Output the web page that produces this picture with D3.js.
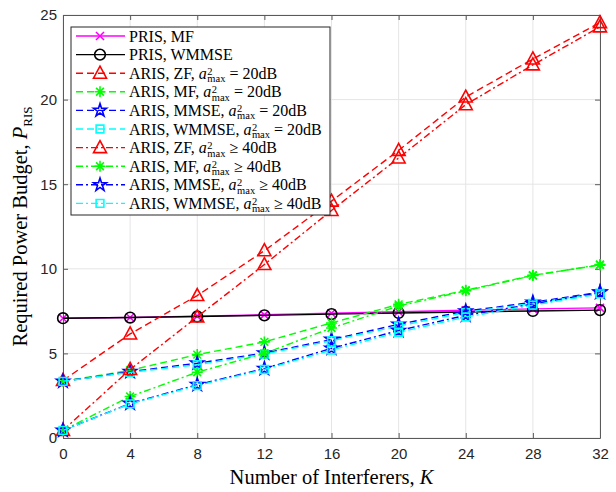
<!DOCTYPE html>
<html>
<head>
<meta charset="utf-8">
<script src="https://cdn.jsdelivr.net/npm/d3@7"></script>
<style>
  body { margin: 0; background: #fff; }
  svg { display: block; }
</style>
</head>
<body>
<div id="chart"></div>
<script>
const width = 616;
const height = 492;
const margin = { top: 15, right: 16, bottom: 54, left: 63 };

// data
const interferers = [0, 4, 8, 12, 16, 20, 24, 28, 32];
const xTicks = [0, 4, 8, 12, 16, 20, 24, 28, 32];
const yTicks = [0, 5, 10, 15, 20, 25];

const prisMF = [7.08, 7.12, 7.2, 7.28, 7.37, 7.46, 7.55, 7.63, 7.69];
const prisWMMSE = [7.08, 7.12, 7.18, 7.25, 7.32, 7.39, 7.45, 7.51, 7.56];
const arisZF20 = [3.4, 6.15, 8.42, 11.07, 14.0, 17.0, 20.15, 22.4, 24.55];
const arisMF20 = [3.35, 4.0, 4.93, 5.68, 6.8, 7.9, 8.73, 9.62, 10.22];
const arisMMSE20 = [3.35, 3.92, 4.42, 5.02, 5.82, 6.72, 7.5, 8.02, 8.62];
const arisWMMSE20 = [3.35, 3.88, 4.33, 4.96, 5.75, 6.62, 7.42, 7.96, 8.56];
const arisZF40 = [0.45, 4.05, 7.16, 10.25, 13.45, 16.55, 19.7, 22.05, 24.3];
const arisMF40 = [0.45, 2.45, 3.89, 5.0, 6.5, 7.8, 8.7, 9.6, 10.25];
const arisMMSE40 = [0.45, 2.04, 3.15, 4.1, 5.3, 6.35, 7.25, 7.92, 8.6];
const arisWMMSE40 = [0.45, 2.02, 3.1, 4.05, 5.2, 6.25, 7.15, 7.85, 8.52];

const seriesNames = [
  ["PRIS, MF"],
  ["PRIS, WMMSE"],
  ["ARIS, ZF, ", "=", "20dB"],
  ["ARIS, MF, ", "=", "20dB"],
  ["ARIS, MMSE, ", "=", "20dB"],
  ["ARIS, WMMSE, ", "=", "20dB"],
  ["ARIS, ZF, ", "\u2265", "40dB"],
  ["ARIS, MF, ", "\u2265", "40dB"],
  ["ARIS, MMSE, ", "\u2265", "40dB"],
  ["ARIS, WMMSE, ", "\u2265", "40dB"]
];
const seriesValues = [prisMF, prisWMMSE, arisZF20, arisMF20, arisMMSE20, arisWMMSE20,
  arisZF40, arisMF40, arisMMSE40, arisWMMSE40];
const seriesColors = ["#ff00ff", "#000000", "#ff0000", "#00ff00", "#0000ff", "#00ffff",
  "#ff0000", "#00ff00", "#0000ff", "#00ffff"];
const seriesMarkers = ["x", "circle", "triangle", "asterisk", "star", "square",
  "triangle", "asterisk", "star", "square"];
const seriesDash = ["none", "none", "7,4", "7,4", "7,4", "7,4",
  "7,3,2,3", "7,3,2,3", "7,3,2,3", "7,3,2,3"];

const series = seriesNames.map((name, i) => ({
  name,
  values: seriesValues[i],
  color: seriesColors[i],
  marker: seriesMarkers[i],
  dash: seriesDash[i]
}));

const svg = d3.select("#chart").append("svg")
  .attr("width", width)
  .attr("height", height);

const x = d3.scaleLinear().domain([0, 32]).range([margin.left, width - margin.right]);
const y = d3.scaleLinear().domain([0, 25]).range([height - margin.bottom, margin.top]);

const tickFont = "'Liberation Sans', Arial, sans-serif";
const serif = "'Liberation Serif', 'Times New Roman', serif";

// grid
const grid = svg.append("g");
grid.selectAll(".gx").data(xTicks).join("line")
  .attr("x1", d => x(d)).attr("x2", d => x(d))
  .attr("y1", y(0)).attr("y2", y(25))
  .attr("stroke", "#e5e5e5").attr("stroke-width", 1);
grid.selectAll(".gy").data(yTicks).join("line")
  .attr("x1", x(0)).attr("x2", x(32))
  .attr("y1", d => y(d)).attr("y2", d => y(d))
  .attr("stroke", "#e5e5e5").attr("stroke-width", 1);

// axes (ticks inward, box)
const axisColor = "#5a5a5a";
const xAxis = svg.append("g").attr("transform", `translate(0,${y(0)})`)
  .call(d3.axisBottom(x).tickValues(xTicks).tickSizeInner(-5).tickSizeOuter(0).tickPadding(10));
const yAxis = svg.append("g").attr("transform", `translate(${x(0)},0)`)
  .call(d3.axisLeft(y).tickValues(yTicks).tickSizeInner(-5).tickSizeOuter(0).tickPadding(6));
const xTop = svg.append("g").attr("transform", `translate(0,${y(25)})`)
  .call(d3.axisTop(x).tickValues(xTicks).tickSizeInner(-5).tickSizeOuter(0).tickFormat(""));
const yRight = svg.append("g").attr("transform", `translate(${x(32)},0)`)
  .call(d3.axisRight(y).tickValues(yTicks).tickSizeInner(-5).tickSizeOuter(0).tickFormat(""));

[xAxis, yAxis, xTop, yRight].forEach(a => {
  a.selectAll("path, line").attr("stroke", axisColor);
  a.selectAll("text").attr("fill", "#262626")
    .style("font-family", tickFont).style("font-size", "15px");
});

// markers
function asteriskPath(r) {
  const d = r * Math.SQRT1_2;
  return `M${-r},0L${r},0M0,${-r}L0,${r}M${-d},${-d}L${d},${d}M${-d},${d}L${d},${-d}`;
}
function xPath(r) {
  return `M${-r},${-r}L${r},${r}M${-r},${r}L${r},${-r}`;
}
function markerPath(kind) {
  switch (kind) {
    case "circle": return d3.symbol(d3.symbolCircle, 90)();
    case "triangle": return "M0,-7L6.5,5L-6.5,5Z";
    case "star": return d3.symbol(d3.symbolStar, 52)();
    case "square": return d3.symbol(d3.symbolSquare, 60)();
    case "asterisk": return asteriskPath(5.5);
    case "x": return xPath(4);
  }
}

const line = d3.line().x((d, i) => x(interferers[i])).y(d => y(d));

const plot = svg.append("g");
series.forEach(s => {
  const g = plot.append("g");
  g.append("path")
    .attr("d", line(s.values))
    .attr("fill", "none")
    .attr("stroke", s.color)
    .attr("stroke-width", 1.4)
    .attr("stroke-dasharray", s.dash);
  g.selectAll("path.m").data(s.values).join("path")
    .attr("class", "m")
    .attr("d", markerPath(s.marker))
    .attr("transform", (d, i) => `translate(${x(interferers[i])},${y(d)})`)
    .attr("fill", "none")
    .attr("stroke", s.color)
    .attr("stroke-width", 1.6);
});

// legend
const lx = 71, ly = 27, lw = 259, lh = 188, rowH = 18.6;
const legend = svg.append("g");
legend.append("rect")
  .attr("x", lx).attr("y", ly).attr("width", lw).attr("height", lh)
  .attr("fill", "#fff").attr("stroke", "#262626").attr("stroke-width", 1);

series.forEach((s, i) => {
  const cy = ly + 9 + rowH * i;
  const row = legend.append("g");
  row.append("line")
    .attr("x1", lx + 5).attr("x2", lx + 54).attr("y1", cy).attr("y2", cy)
    .attr("stroke", s.color).attr("stroke-width", 1.4)
    .attr("stroke-dasharray", s.dash === "none" ? null : s.dash);
  row.append("path")
    .attr("d", markerPath(s.marker))
    .attr("transform", `translate(${lx + 29},${cy})`)
    .attr("fill", "none").attr("stroke", s.color).attr("stroke-width", 1.6);
  const t = row.append("text")
    .attr("x", lx + 58).attr("y", cy + 5.5)
    .style("font-family", serif).style("font-size", "16px").attr("fill", "#000");
  t.append("tspan").text(s.name[0]);
  if (s.name.length > 1) {
    t.append("tspan").style("font-style", "italic").text("a");
    const sx = lx + 58 + t.node().getComputedTextLength() + 0.5;
    row.append("text")
      .attr("x", sx).attr("y", cy + 1.5)
      .style("font-family", serif).style("font-size", "10.5px").text("2");
    const sub = row.append("text")
      .attr("x", sx).attr("y", cy + 9)
      .style("font-family", serif).style("font-size", "10.5px").text("max");
    const rx = sx + sub.node().getComputedTextLength() + 4;
    row.append("text")
      .attr("x", rx).attr("y", cy + 5.5)
      .style("font-family", serif).style("font-size", "16px")
      .text(`${s.name[1]} ${s.name[2]}`);
  }
});

// axis labels
svg.append("text")
  .attr("x", (x(0) + x(32)) / 2).attr("y", 484)
  .attr("text-anchor", "middle")
  .style("font-family", serif).style("font-size", "20.5px")
  .call(t => {
    t.append("tspan").text("Number of Interferers, ");
    t.append("tspan").style("font-style", "italic").text("K");
  });

svg.append("text")
  .attr("transform", `translate(27,${(y(0) + y(25)) / 2}) rotate(-90)`)
  .attr("text-anchor", "middle")
  .style("font-family", serif).style("font-size", "20.5px")
  .call(t => {
    t.append("tspan").text("Required Power Budget, ");
    t.append("tspan").style("font-style", "italic").text("P");
    t.append("tspan").attr("dy", 5).style("font-size", "13px").text("RIS");
  });
</script>
</body>
</html>
